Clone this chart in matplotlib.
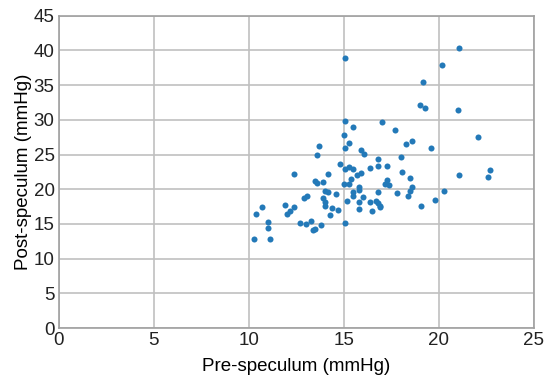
import matplotlib
matplotlib.use("Agg")
import matplotlib.pyplot as plt

# pre / post speculum pressures (mmHg)
pre = [21.1, 15.1, 20.2, 19.2, 19.0, 19.3, 21.0, 15.1, 17.0, 15.5,
       17.7, 15.0, 22.1, 15.3, 18.6, 18.3, 13.7, 15.1, 15.9, 16.1,
       19.6, 13.6, 16.8, 18.0, 14.8, 15.1, 15.3, 15.5, 16.8, 17.3,
       16.4, 12.4, 14.2, 15.7, 15.9, 18.1, 21.1, 22.7, 22.6, 15.4,
       13.5, 13.6, 13.9, 15.0, 15.3, 17.3, 17.2, 17.4, 18.5, 18.6,
       15.8, 15.8, 14.0, 14.2, 15.5, 14.6, 16.8, 17.8, 18.5, 18.4,
       20.3, 15.5, 16.0, 13.1, 12.9, 13.9, 15.2, 15.8, 16.4, 16.7,
       16.8, 16.9, 16.9, 19.8, 19.1, 14.0, 14.0, 14.4, 14.7, 14.3,
       15.8, 16.5, 10.7, 11.9, 12.4, 12.2, 12.0, 10.4, 11.0, 11.0,
       12.7, 13.0, 13.3, 13.8, 13.5, 13.4, 15.1, 10.3, 11.1]
post = [40.4, 38.9, 37.9, 35.4, 32.1, 31.7, 31.4, 29.8, 29.7, 28.9,
        28.6, 27.8, 27.5, 26.6, 27.0, 26.5, 26.2, 26.0, 25.7, 25.1,
        26.0, 24.9, 24.4, 24.7, 23.6, 22.9, 23.2, 22.9, 23.4, 23.4,
        23.0, 22.2, 22.2, 22.0, 22.3, 22.5, 22.0, 22.8, 21.7, 21.5,
        21.2, 20.9, 21.1, 20.8, 20.7, 21.3, 20.8, 20.65, 21.6, 20.3,
        20.3, 19.9, 19.8, 19.6, 19.6, 19.3, 19.6, 19.4, 19.7, 19.0,
        19.7, 19.0, 18.9, 19.0, 18.7, 18.7, 18.3, 18.2, 18.1, 18.3,
        18.0, 17.6, 17.4, 18.5, 17.6, 18.1, 17.6, 17.3, 17.0, 16.3,
        17.1, 16.8, 17.5, 17.7, 17.5, 16.8, 16.5, 16.5, 15.3, 14.4,
        15.1, 15.0, 15.4, 14.9, 14.3, 14.1, 15.1, 12.8, 12.8]

x_ticks = [0, 5, 10, 15, 20, 25]
y_ticks = [0, 5, 10, 15, 20, 25, 30, 35, 40, 45]

plt.rcParams['font.family'] = ['Liberation Sans', 'DejaVu Sans']

fig = plt.figure(figsize=(5.5, 3.84), dpi=100)
ax = fig.add_axes([0.1067, 0.1458, 0.8633, 0.8133])

ax.scatter(pre, post, s=19, color='#2379b8', linewidths=0, zorder=3)

ax.set_xlim(0, 25)
ax.set_ylim(0, 45)
ax.set_xticks(x_ticks)
ax.set_yticks(y_ticks)
ax.grid(True, color='#c0c0c0', linewidth=1.2)
ax.set_axisbelow(True)
for s in ax.spines.values():
    s.set_color('#a0a0a0')
    s.set_linewidth(1.2)
ax.tick_params(length=0, labelsize=13.5, pad=3, colors='#222222')
ax.set_xlabel("Pre-speculum (mmHg)", fontsize=13.5, labelpad=6)
ax.set_ylabel("Post-speculum (mmHg)", fontsize=13.5, labelpad=1)

fig.savefig("out.png", dpi=100)
